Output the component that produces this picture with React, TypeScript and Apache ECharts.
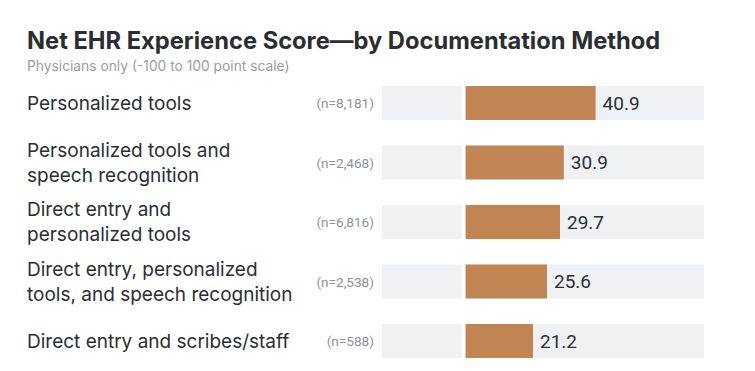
import React, { useEffect, useRef } from "react";
import * as echarts from "echarts";

const categories = [
  "Personalized tools",
  "Personalized tools and\nspeech recognition",
  "Direct entry and\npersonalized tools",
  "Direct entry, personalized\ntools, and speech recognition",
  "Direct entry and scribes/staff",
];
const sampleSizes = ["(n=8,181)", "(n=2,468)", "(n=6,816)", "(n=2,538)", "(n=588)"];
const scores = [40.9, 30.9, 29.7, 25.6, 21.2];

const AXIS_MIN = -26.3;
const AXIS_MAX = 75;
const GAP = 1.2;

export default function App() {
  const ref = useRef<HTMLDivElement>(null);
  useEffect(() => {
    if (!ref.current) return;
    const chart = echarts.init(ref.current, undefined, { renderer: "svg" });
    const font = "Roboto";
    const wide = "Inter";
    chart.setOption({
      animation: false,
      title: {
        text: "Net EHR Experience Score\u2014by Documentation Method",
        subtext: "Physicians only (-100 to 100 point scale)",
        left: 22,
        top: 23,
        itemGap: 7,
        textStyle: { fontFamily: wide, fontSize: 23.7, fontWeight: "bold", color: "#2a2e33" },
        subtextStyle: { fontFamily: wide, fontSize: 13.8, color: "#9a9da1" },
      },
      grid: { left: 382, right: 51, top: 73.25, height: 297.5, containLabel: false },
      xAxis: {
        type: "value",
        min: AXIS_MIN,
        max: AXIS_MAX,
        show: false,
      },
      yAxis: [
        {
          type: "category",
          data: categories,
          inverse: true,
          position: "left",
          axisLine: { show: false },
          axisTick: { show: false },
          splitLine: { show: false },
          axisLabel: {
            align: "left",
            margin: 355,
            fontFamily: wide,
            fontSize: 19,
            lineHeight: 25,
            color: "#2a2e33",
          },
        },
        {
          type: "category",
          data: sampleSizes,
          inverse: true,
          position: "left",
          offset: 0,
          axisLine: { show: false },
          axisTick: { show: false },
          splitLine: { show: false },
          axisLabel: {
            align: "right",
            margin: 8,
            fontFamily: font,
            fontSize: 13.6,
            color: "#8e9296",
          },
        },
      ],
      series: [
        {
          type: "bar",
          stack: "neg",
          barWidth: 34,
          barGap: "-100%",
          silent: true,
          itemStyle: { color: "rgba(0,0,0,0)" },
          data: categories.map(() => -GAP),
        },
        {
          type: "bar",
          stack: "neg",
          barWidth: 34,
          barGap: "-100%",
          silent: true,
          itemStyle: { color: "#f0f1f3" },
          data: categories.map(() => AXIS_MIN + GAP),
        },
        {
          type: "bar",
          barWidth: 34,
          barGap: "-100%",
          silent: true,
          itemStyle: { color: "#f0f1f3" },
          data: categories.map(() => AXIS_MAX),
        },
        {
          type: "bar",
          barWidth: 34,
          barGap: "-100%",
          z: 3,
          itemStyle: { color: "#c08552" },
          label: {
            show: true,
            position: "right",
            distance: 7,
            fontFamily: font,
            fontSize: 19,
            color: "#2a2e33",
            formatter: (p: any) => p.value.toFixed(1),
          },
          data: scores,
        },
      ],
    });
    return () => chart.dispose();
  }, []);
  return (
    <div
      ref={ref}
      style={{ position: "fixed", left: 0, top: 0, width: 755, height: 371, background: "#fff" }}
    />
  );
}
